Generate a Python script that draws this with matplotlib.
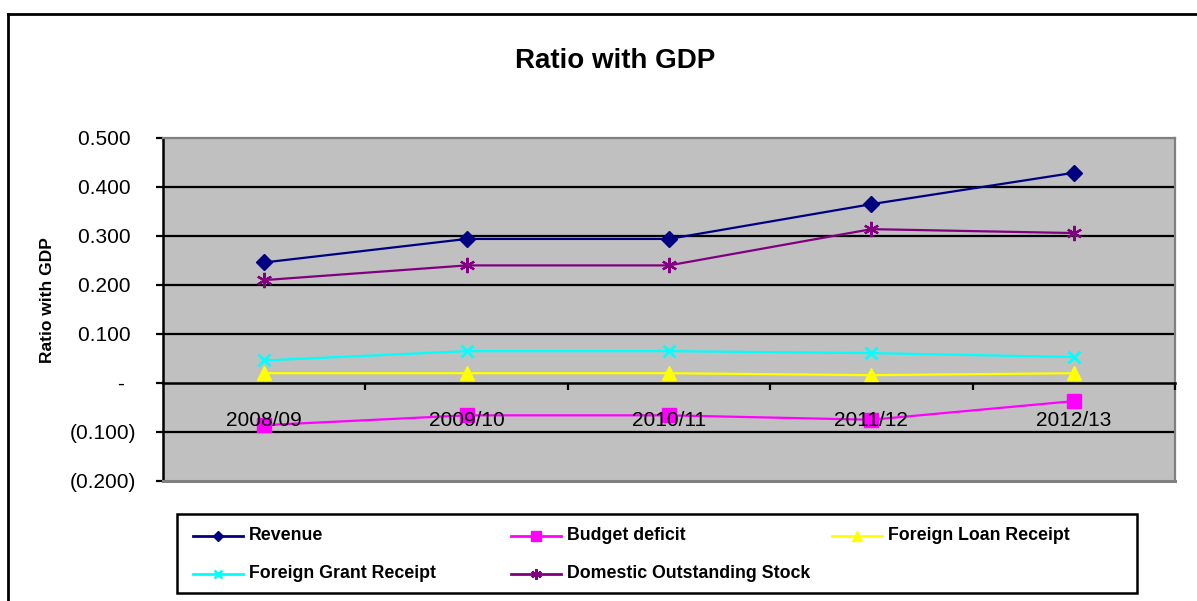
import matplotlib
matplotlib.use("Agg")
import matplotlib.pyplot as plt
from matplotlib.lines import Line2D
from matplotlib.patches import Rectangle
from matplotlib.ticker import FuncFormatter, FixedLocator

plt.rcParams['font.family'] = ['Liberation Sans', 'DejaVu Sans']

# data
years = ["2008/09", "2009/10", "2010/11", "2011/12", "2012/13"]
revenue = [0.246, 0.294, 0.294, 0.365, 0.429]
budget_deficit = [-0.086, -0.066, -0.066, -0.075, -0.037]
foreign_loan = [0.020, 0.020, 0.020, 0.016, 0.020]
foreign_grant = [0.046, 0.065, 0.065, 0.061, 0.053]
domestic_stock = [0.210, 0.240, 0.240, 0.314, 0.306]

series_names = ["Revenue", "Budget deficit", "Foreign Loan Receipt",
                "Foreign Grant Receipt", "Domestic Outstanding Stock"]
series_values = [revenue, budget_deficit, foreign_loan, foreign_grant, domestic_stock]

styles = [
    dict(color="#000080", marker="D", markersize=8),
    dict(color="#FF00FF", marker="s", markersize=10),
    dict(color="#FFFF00", marker="^", markersize=10),
    dict(color="#00FFFF", marker="x", markersize=9, markeredgewidth=2),
    dict(color="#800080", marker=(6, 2, 0), markersize=11, markeredgewidth=1.6),
]


def acct(v, pos):
    if abs(v) < 1e-9:
        return "-  "
    if v < 0:
        return "(%.3f)" % abs(v)
    return "%.3f " % v


fig = plt.figure(figsize=(11.97, 6.01), dpi=100)
ax = fig.add_axes([163 / 1197, 1 - 481 / 601, (1175 - 163) / 1197, (481 - 138) / 601])
ax.set_facecolor("#C0C0C0")

# horizontal gridlines kept under the series
for yv in [-0.1, 0.1, 0.2, 0.3, 0.4]:
    ax.axhline(yv, color="black", lw=1.6, zorder=1)

for name, vals, st in zip(series_names, series_values, styles):
    ax.plot(years, vals, lw=1.6, label=name, zorder=2,
            markerfacecolor=st["color"], markeredgecolor=st["color"], **st)

ax.set_xlim(-0.5, 4.5)
ax.set_ylim(-0.2, 0.5)
ax.set_yticks([-0.2, -0.1, 0, 0.1, 0.2, 0.3, 0.4, 0.5])
ax.yaxis.set_major_formatter(FuncFormatter(acct))

ax.xaxis.set_minor_locator(FixedLocator([0.5, 1.5, 2.5, 3.5, 4.5]))
ax.tick_params(axis="x", which="major", length=0, pad=20, labelsize=15)
ax.tick_params(axis="x", which="minor", length=5, width=1.6, direction="out")
ax.tick_params(axis="y", length=5, width=1.6, direction="out", pad=14, labelsize=15)
# category labels sit on top of the markers, as in the original
ax.xaxis.set_zorder(3)

ax.spines["bottom"].set_position(("data", 0))
ax.spines["bottom"].set_linewidth(1.8)
ax.spines["left"].set_linewidth(1.8)
for s in ["top", "right"]:
    ax.spines[s].set_color("#808080")
    ax.spines[s].set_linewidth(1.6)
ax.axhline(-0.2, color="#808080", lw=2.2, clip_on=False, zorder=3)

fig.text(615 / 1197, 1 - 61 / 601, "Ratio with GDP", ha="center", va="center",
         fontsize=20, fontweight="bold")
fig.text(47 / 1197, 1 - 300 / 601, "Ratio with GDP", ha="center", va="center",
         rotation=90, fontsize=12.5, fontweight="bold")

# outer chart border (runs off the image on right and bottom)
fig.add_artist(Line2D([8 / 1197, 8 / 1197], [0, 1 - 14 / 601], color="black",
                      lw=2, transform=fig.transFigure))
fig.add_artist(Line2D([8 / 1197, 1], [1 - 14 / 601, 1 - 14 / 601], color="black",
                      lw=2, transform=fig.transFigure))

# legend box
W, H = 1197.0, 601.0
fig.add_artist(Rectangle((177 / W, 1 - 593 / H), (1137 - 177) / W, (593 - 514) / H,
                         transform=fig.transFigure, fill=False, ec="black", lw=1.8))
handle_x = [193, 511, 832, 193, 511]
row_y = [536, 536, 536, 574, 574]
for name, st, hx, ry in zip(series_names, styles, handle_x, row_y):
    yy = 1 - ry / H
    fig.add_artist(Line2D([hx / W, (hx + 50) / W], [yy, yy], color=st["color"], lw=2,
                          transform=fig.transFigure))
    ms = dict(st)
    ms["markersize"] = st["markersize"] * 0.7
    fig.add_artist(Line2D([(hx + 25) / W], [yy], transform=fig.transFigure,
                          markerfacecolor=st["color"], markeredgecolor=st["color"],
                          linestyle="none", **ms))
    fig.text((hx + 56) / W, yy, name, ha="left", va="center",
             fontsize=12.8, fontweight="bold")

fig.savefig("out.png", dpi=100)
